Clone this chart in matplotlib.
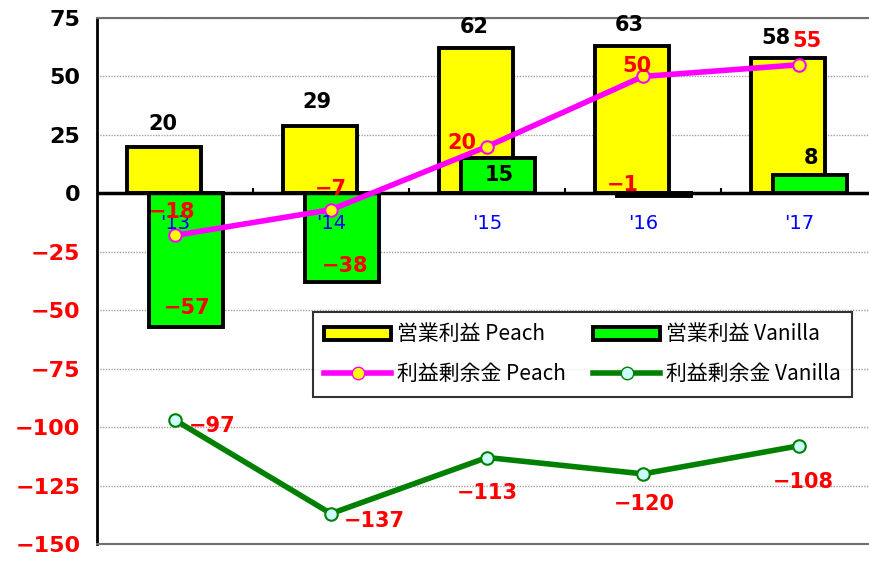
import numpy as np
import matplotlib.pyplot as plt
from matplotlib.lines import Line2D
from matplotlib.patches import Patch

plt.rcParams['font.family'] = ['Noto Sans CJK JP', 'DejaVu Sans']

# data
years = ["'13", "'14", "'15", "'16", "'17"]
op_peach = [20, 29, 62, 63, 58]
op_vanilla = [-57, -38, 15, -1, 8]
re_peach = [-18, -7, 20, 50, 55]
re_vanilla = [-97, -137, -113, -120, -108]

# label placements (offsets in x units / y units)
op_peach_lbl = [(-0.08, 9.5), (-0.09, 10), (-0.08, 9), (-0.09, 9), (-0.15, 8.5)]
op_vanilla_lbl = [(0.08, 8), (0.09, 7), (0.08, -7), (-0.13, 4.4), (0.08, 7)]
re_peach_lbl = [(-0.02, 10), (0.0, 9), (-0.16, 1.5), (-0.04, 4.5), (0.05, 10)]
re_vanilla_lbl = [(0.24, -2.6), (0.28, -3), (0.0, -15), (0.01, -13), (0.03, -15.5)]

x = np.arange(len(years))
w = 0.47
off = 0.07

fig = plt.figure(figsize=(8.69, 5.63), dpi=100)
ax = fig.add_axes([97 / 869, 19 / 563, 780 / 869, 526 / 563])

ax.bar(x - off, op_peach, w, color='#ffff00', edgecolor='black', linewidth=2.8, zorder=2)
ax.bar(x + off, op_vanilla, w, color='#00ff00', edgecolor='black', linewidth=2.8, zorder=3)
ax.plot(x, re_peach, color='#ff00ff', lw=4, marker='o', ms=9, mfc='#ffff00',
        mec='#ff00ff', mew=1.5, zorder=5)
ax.plot(x, re_vanilla, color='#008000', lw=4, marker='o', ms=9, mfc='#ccffff',
        mec='#008000', mew=1.5, zorder=5)

ax.set_xlim(-0.5, 4.5)
ax.set_ylim(-150, 75)
ax.set_yticks(np.arange(-150, 76, 25))
ax.yaxis.grid(True, color='#a0a0a0', linestyle=(0, (1, 1)), linewidth=1)
ax.set_axisbelow(True)
ax.axhline(0, color='black', lw=2.5, zorder=4)

ax.set_xticks([])
for b in np.arange(0.5, 4, 1):
    ax.plot([b, b], [0, 2], color='black', lw=1.5, zorder=4)

for sp in ['top', 'bottom']:
    ax.spines[sp].set_color('#707070')
    ax.spines[sp].set_linewidth(1.5)
ax.spines['left'].set_color('black')
ax.spines['left'].set_linewidth(2)
ax.spines['right'].set_visible(False)

ax.tick_params(axis='y', length=0, pad=12)
for t, v in zip(ax.get_yticklabels(), np.arange(-150, 76, 25)):
    t.set_fontsize(16)
    t.set_fontweight('bold')
    t.set_family('DejaVu Sans')
    t.set_color('black' if v >= 0 else '#ff0000')

for i, yl in enumerate(years):
    ax.text(x[i], -13, yl, color='#0000ff', fontsize=14, ha='center', va='center',
            family='DejaVu Sans', zorder=6)

lbl = dict(fontsize=15, fontweight='bold', ha='center', va='center',
           family='DejaVu Sans', zorder=7)
for i in range(len(x)):
    dx, dy = op_peach_lbl[i]
    ax.text(x[i] + dx, op_peach[i] + dy, str(op_peach[i]), color='black', **lbl)
    dx, dy = op_vanilla_lbl[i]
    v = op_vanilla[i]
    ax.text(x[i] + dx, v + dy, str(v).replace('-', '\u2212'),
            color='black' if v > 0 else '#ff0000', **lbl)
    dx, dy = re_peach_lbl[i]
    ax.text(x[i] + dx, re_peach[i] + dy, str(re_peach[i]).replace('-', '\u2212'),
            color='#ff0000', **lbl)
    dx, dy = re_vanilla_lbl[i]
    ax.text(x[i] + dx, re_vanilla[i] + dy, str(re_vanilla[i]).replace('-', '\u2212'),
            color='#ff0000', **lbl)

handles = [
    Patch(facecolor='#ffff00', edgecolor='black', linewidth=2.8, label='営業利益 Peach'),
    Line2D([], [], color='#ff00ff', lw=4, marker='o', ms=9, mfc='#ffff00',
           mec='#ff00ff', label='利益剰余金 Peach'),
    Patch(facecolor='#00ff00', edgecolor='black', linewidth=2.8, label='営業利益 Vanilla'),
    Line2D([], [], color='#008000', lw=4, marker='o', ms=9, mfc='#ccffff',
           mec='#008000', label='利益剰余金 Vanilla'),
]
leg = ax.legend(handles=handles, ncol=2, loc='upper left',
                bbox_to_anchor=(216 / 780, 232 / 526), fontsize=15,
                frameon=True, fancybox=False, edgecolor='black',
                handlelength=3.2, handleheight=0.6, columnspacing=1.3,
                handletextpad=0.3, borderpad=0.55, labelspacing=0.85,
                borderaxespad=0)
leg.get_frame().set_linewidth(1.5)
leg.set_zorder(8)

fig.savefig('out.png', dpi=100)
